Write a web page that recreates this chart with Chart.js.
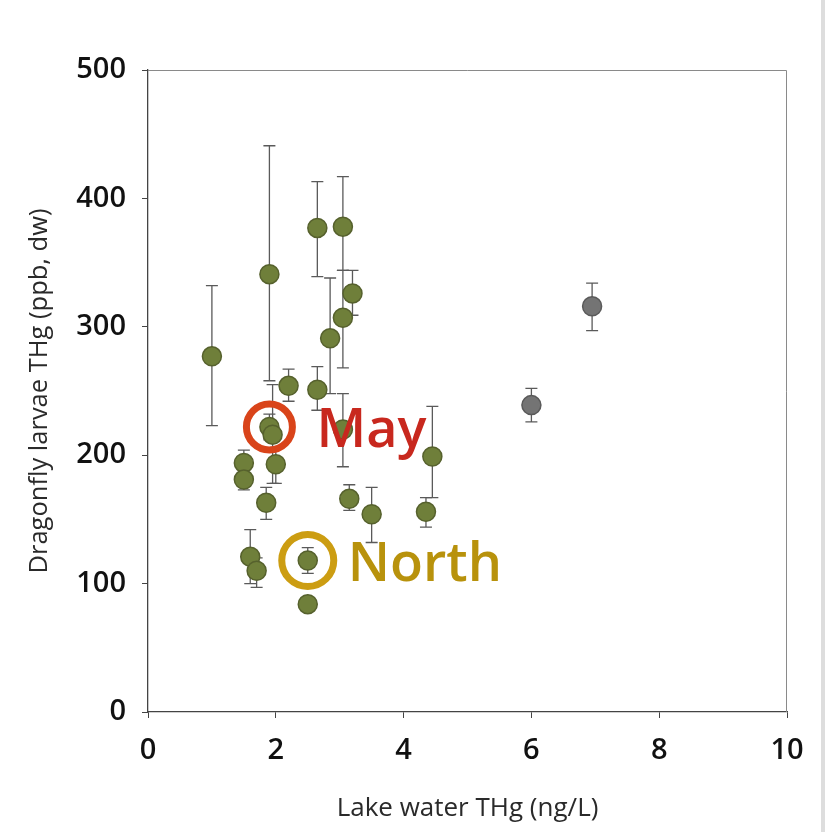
<!DOCTYPE html>
<html>
<head>
<meta charset="utf-8">
<script src="https://cdn.jsdelivr.net/npm/chart.js@4.4.1/dist/chart.umd.min.js"></script>
<style>
  html, body { margin: 0; padding: 0; background: #fff; }
  #wrap { width: 825px; height: 832px; position: relative; }
  #wrap:after { content: ''; position: absolute; right: 0; top: 0; width: 4px; height: 832px; background: #ddd; }
</style>
</head>
<body>
<div id="wrap"><canvas id="chart" width="825" height="832"></canvas></div>
<script>
// Lake water THg (ng/L) vs dragonfly larvae THg (ppb, dw)
const lakeTHg   = [1.0, 1.5, 1.5, 1.6, 1.7, 1.85, 1.9, 1.9, 1.95, 2.0, 2.2, 2.5, 2.5, 2.65, 2.65, 2.85, 3.05, 3.05, 3.05, 3.2, 3.15, 3.5, 4.35, 4.45];
const larvaeTHg = [277, 194, 181, 121, 110, 163, 341, 222, 216, 193, 254, 118, 84, 377, 251, 291, 378, 307, 220, 326, 166, 154, 156, 199];
const errLow    = [223, 184, 173, 100, 97, 150, 258, 212, 178, 178, 242, 108, 80, 339, 235, 248, 344, 268, 191, 309, 157, 132, 144, 167];
const errHigh   = [332, 204, 188, 142, 120, 175, 441, 232, 255, 206, 267, 128, 88, 413, 269, 338, 417, 344, 248, 344, 177, 175, 167, 238];

// the two grey points
const otherTHg   = [6.0, 6.95];
const otherLarv  = [239, 316];
const otherLow   = [226, 297];
const otherHigh  = [252, 334];

const xTicks = [0, 2, 4, 6, 8, 10];
const yTicks = [0, 100, 200, 300, 400, 500];

// highlighted points
const callouts = [
  { label: 'May',   x: 1.9, y: 222, r: 23, gap: 47, color: '#d9441a', text: '#c8281e' },
  { label: 'North', x: 2.5, y: 118, r: 26, gap: 40, color: '#cc9d12', text: '#b8920c' }
];

const FONT = "'Open Sans', 'Noto Sans', sans-serif";

const errorBars = {
  id: 'errorBars',
  beforeDatasetsDraw(chart) {
    const ctx = chart.ctx;
    const xs = chart.scales.x, ys = chart.scales.y;
    ctx.save();
    ctx.strokeStyle = '#5a5a5a';
    ctx.lineWidth = 1.3;
    chart.data.datasets.forEach(ds => {
      ds.data.forEach(p => {
        const px = xs.getPixelForValue(p.x);
        const lo = ys.getPixelForValue(p.lo), hi = ys.getPixelForValue(p.hi);
        ctx.beginPath();
        ctx.moveTo(px, lo); ctx.lineTo(px, hi);
        ctx.moveTo(px - 6, lo); ctx.lineTo(px + 6, lo);
        ctx.moveTo(px - 6, hi); ctx.lineTo(px + 6, hi);
        ctx.stroke();
      });
    });
    // light frame on top / right
    const a = chart.chartArea;
    ctx.strokeStyle = '#8a8a8a';
    ctx.lineWidth = 1;
    ctx.beginPath();
    ctx.moveTo(a.left, a.top + 0.5); ctx.lineTo(a.right - 0.5, a.top + 0.5); ctx.lineTo(a.right - 0.5, a.bottom);
    ctx.stroke();
    ctx.restore();
  },
  afterDatasetsDraw(chart) {
    const ctx = chart.ctx;
    const xs = chart.scales.x, ys = chart.scales.y;
    ctx.save();
    callouts.forEach(c => {
      const px = xs.getPixelForValue(c.x), py = ys.getPixelForValue(c.y);
      ctx.strokeStyle = c.color;
      ctx.lineWidth = 7;
      ctx.beginPath();
      ctx.arc(px, py, c.r, 0, Math.PI * 2);
      ctx.stroke();
      ctx.fillStyle = c.text;
      ctx.font = '600 54px ' + FONT;
      ctx.textBaseline = 'middle';
      ctx.fillText(c.label, px + c.gap, py + 5);
    });
    ctx.restore();
  }
};

const toPoints = (xs, ys, lo, hi) => xs.map((x, i) => ({ x: x, y: ys[i], lo: lo[i], hi: hi[i] }));

new Chart(document.getElementById('chart'), {
  type: 'scatter',
  data: {
    datasets: [
      {
        label: 'Lakes',
        data: toPoints(lakeTHg, larvaeTHg, errLow, errHigh),
        backgroundColor: '#6f7f3a',
        borderColor: '#56612d',
        borderWidth: 1.5,
        pointRadius: 9.5
      },
      {
        label: 'Other',
        data: toPoints(otherTHg, otherLarv, otherLow, otherHigh),
        backgroundColor: '#747474',
        borderColor: '#5a5a5a',
        borderWidth: 1.5,
        pointRadius: 9.5
      }
    ]
  },
  options: {
    responsive: false,
    animation: false,
    layout: { padding: { top: 70, right: 38, left: 0, bottom: 0 } },
    plugins: { legend: { display: false }, tooltip: { enabled: false } },
    scales: {
      x: {
        type: 'linear', min: 0, max: 10,
        afterFit: s => { s.height = 120; },
        afterBuildTicks: s => { s.ticks = xTicks.map(v => ({ value: v })); },
        grid: { drawOnChartArea: false, tickLength: 6, color: '#444' },
        border: { color: '#444', width: 1.3 },
        ticks: { color: '#111', font: { family: FONT, size: 29, weight: '600' }, padding: 15, maxRotation: 0 },
        title: { display: true, text: 'Lake water THg (ng/L)', color: '#2a2a2a', font: { family: FONT, size: 26 }, padding: { bottom: 8 } }
      },
      y: {
        type: 'linear', min: 0, max: 500,
        afterFit: s => { s.width = 148; },
        afterBuildTicks: s => { s.ticks = yTicks.map(v => ({ value: v })); },
        grid: { drawOnChartArea: false, tickLength: 6, color: '#444' },
        border: { color: '#444', width: 1.3 },
        ticks: { color: '#111', font: { family: FONT, size: 29, weight: '600' }, padding: 16 },
        title: { display: true, text: 'Dragonfly larvae THg (ppb, dw)', color: '#2a2a2a', font: { family: FONT, size: 25.5 }, padding: { top: 24 } }
      }
    }
  },
  plugins: [errorBars]
});
</script>
</body>
</html>
